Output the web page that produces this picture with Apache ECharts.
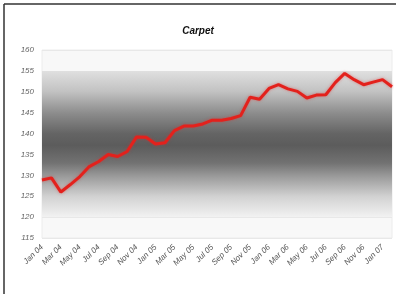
<!DOCTYPE html>
<html>
<head>
<meta charset="utf-8">
<script src="https://cdn.jsdelivr.net/npm/echarts@6/dist/echarts.min.js"></script>
<style>
html, body { margin: 0; padding: 0; background: #fff; }
#chart { width: 396px; height: 294px; }
</style>
</head>
<body>
<div id="chart"></div>
<script>
// monthly, Jan 04 .. Feb 07
var months = ['Jan 04','Feb 04','Mar 04','Apr 04','May 04','Jun 04','Jul 04','Aug 04','Sep 04','Oct 04','Nov 04','Dec 04',
              'Jan 05','Feb 05','Mar 05','Apr 05','May 05','Jun 05','Jul 05','Aug 05','Sep 05','Oct 05','Nov 05','Dec 05',
              'Jan 06','Feb 06','Mar 06','Apr 06','May 06','Jun 06','Jul 06','Aug 06','Sep 06','Oct 06','Nov 06','Dec 06',
              'Jan 07','Feb 07'];
var carpet = [128.9, 129.4, 126.0, 127.8, 129.7, 132.1, 133.3, 135.0, 134.5, 135.7, 139.2, 139.1,
              137.5, 137.8, 140.7, 141.8, 141.8, 142.3, 143.2, 143.2, 143.6, 144.3, 148.7, 148.2,
              150.8, 151.7, 150.7, 150.1, 148.5, 149.2, 149.3, 152.2, 154.4, 152.9, 151.7, 152.3,
              152.9, 151.2];
var bandFrom = 120, bandTo = 155;

var myChart = echarts.init(document.getElementById('chart'));
var option = {
    animation: false,
    title: {
        text: 'Carpet',
        left: 'center',
        top: 21,
        textStyle: { fontFamily: 'Liberation Sans', fontSize: 10, fontWeight: 'bold', fontStyle: 'italic', color: '#111' }
    },
    grid: {
        left: 42, right: 4, top: 50, bottom: 56, containLabel: false, outerBoundsMode: 'none',
        show: true, backgroundColor: '#f8f8f8', borderColor: '#ececec', borderWidth: 1
    },
    xAxis: {
        type: 'category',
        data: months,
        boundaryGap: false,
        axisLine: { show: false },
        axisTick: { show: false },
        axisLabel: {
            interval: 1,
            rotate: 45,
            margin: 8,
            fontFamily: 'Liberation Sans',
            fontStyle: 'italic',
            fontSize: 8,
            color: '#555'
        },
        splitLine: { show: false }
    },
    yAxis: {
        type: 'value',
        min: 115,
        max: 160,
        interval: 5,
        axisLine: { show: false },
        axisTick: { show: false },
        axisLabel: { fontFamily: 'Liberation Sans', fontStyle: 'italic', fontSize: 8, color: '#666', margin: 8 },
        splitLine: { lineStyle: { color: '#e8e8e8', width: 1 } }
    },
    graphic: [
        { type: 'line', shape: { x1: 4, y1: 4, x2: 396, y2: 4 }, style: { stroke: '#333', lineWidth: 1.5 } },
        { type: 'line', shape: { x1: 4, y1: 4, x2: 4, y2: 294 }, style: { stroke: '#333', lineWidth: 1.5 } }
    ],
    series: [{
        type: 'line',
        data: carpet,
        symbol: 'none',
        lineStyle: { color: '#e3211c', width: 3, shadowColor: 'rgba(230,40,40,0.5)', shadowBlur: 3 },
        z: 5,
        markArea: {
            silent: true,
            itemStyle: {
                color: new echarts.graphic.LinearGradient(0, 0, 0, 1, [
                    { offset: 0, color: '#e0e0e0' },
                    { offset: 0.14, color: '#c2c2c2' },
                    { offset: 0.29, color: '#8c8c8c' },
                    { offset: 0.43, color: '#646464' },
                    { offset: 0.51, color: '#5c5c5c' },
                    { offset: 0.63, color: '#727272' },
                    { offset: 0.72, color: '#9a9a9a' },
                    { offset: 0.86, color: '#d2d2d2' },
                    { offset: 1, color: '#f2f2f2' }
                ])
            },
            data: [[{ yAxis: bandTo }, { yAxis: bandFrom }]]
        }
    }]
};
myChart.setOption(option);
</script>
</body>
</html>
